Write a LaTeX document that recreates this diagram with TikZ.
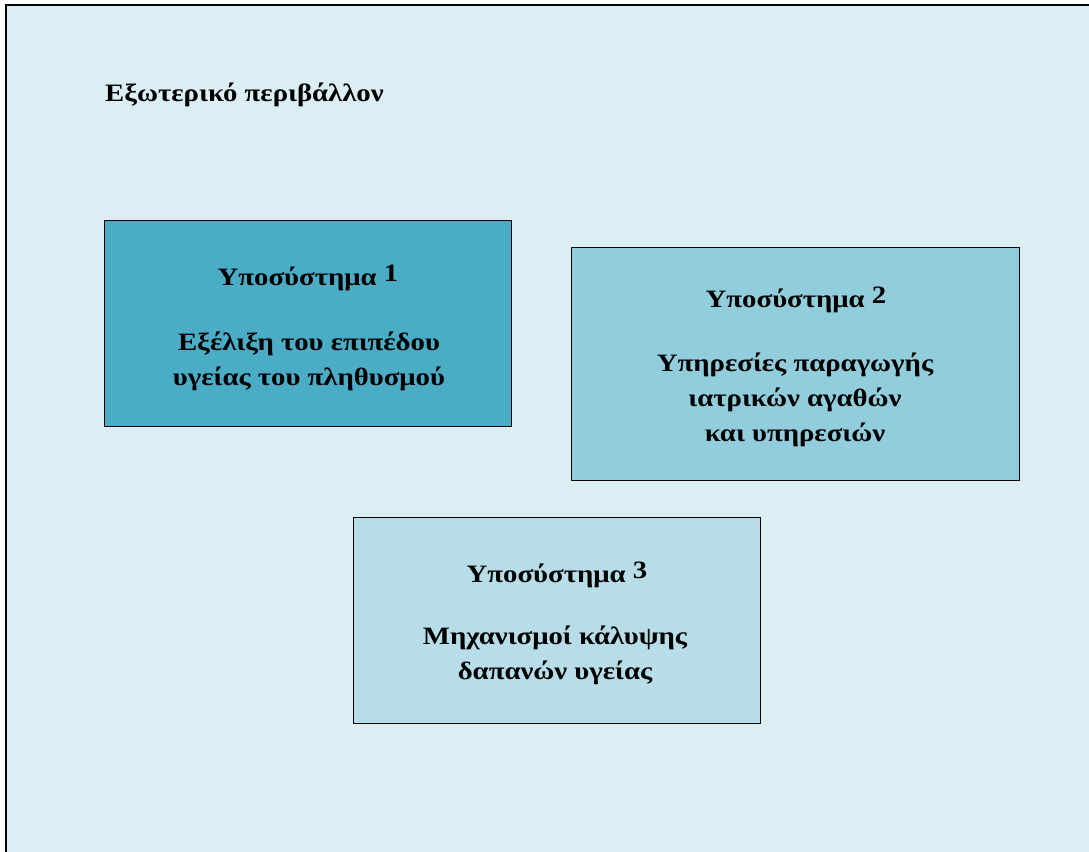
\documentclass[tikz,border=0pt]{standalone}
\usepackage{fontspec}
\setmainfont{Liberation Serif}
\newfontfamily\widefont[FakeStretch=1.15]{Liberation Serif}
\definecolor{envbg}{HTML}{DAEEF3}
\definecolor{subA}{HTML}{4BACC6}
\definecolor{subB}{HTML}{92CDDC}
\definecolor{subC}{HTML}{B7DDE8}
\begin{document}
\begin{tikzpicture}[x=1pt,y=-1pt,
  subsys/.style={draw=black,line width=1.3pt,anchor=north west,inner sep=0pt},
  head/.style={font=\widefont\bfseries\fontsize{25}{30}\selectfont,inner sep=0pt},
  body/.style={font=\widefont\bfseries\fontsize{25}{35}\selectfont,align=center,inner sep=0pt}]
  \useasboundingbox (0,0) rectangle (1089,851);
  % surrounding environment frame, open to the right and bottom
  \fill[envbg] (6,5) rectangle (1095,860);
  \draw[line width=1.5pt] (6,860) -- (6,5) -- (1095,5);
  \node[head,anchor=west] (env) at (105,95) {Εξωτερικό περιβάλλον};
  % subsystems
  \node[subsys,fill=subA,minimum width=407pt,minimum height=206pt] (s1) at (104,220) {};
  \node[subsys,fill=subB,minimum width=448pt,minimum height=233pt] (s2) at (571,247) {};
  \node[subsys,fill=subC,minimum width=407pt,minimum height=206pt] (s3) at (353,517) {};
  \node[head] (t1) at (308,278) {Υποσύστημα \raisebox{4pt}{1}};
  \node[body] (d1) at (309,361) {Εξέλιξη του επιπέδου\\υγείας του πληθυσμού};
  \node[head] (t2) at (796,300) {Υποσύστημα \raisebox{4pt}{2}};
  \node[body] (d2) at (795,400) {Υπηρεσίες παραγωγής\\ιατρικών αγαθών\\και υπηρεσιών};
  \node[head] (t3) at (557,575) {Υποσύστημα \raisebox{4pt}{3}};
  \node[body] (d3) at (555,655) {Μηχανισμοί κάλυψης\\δαπανών υγείας};
\end{tikzpicture}
\end{document}
